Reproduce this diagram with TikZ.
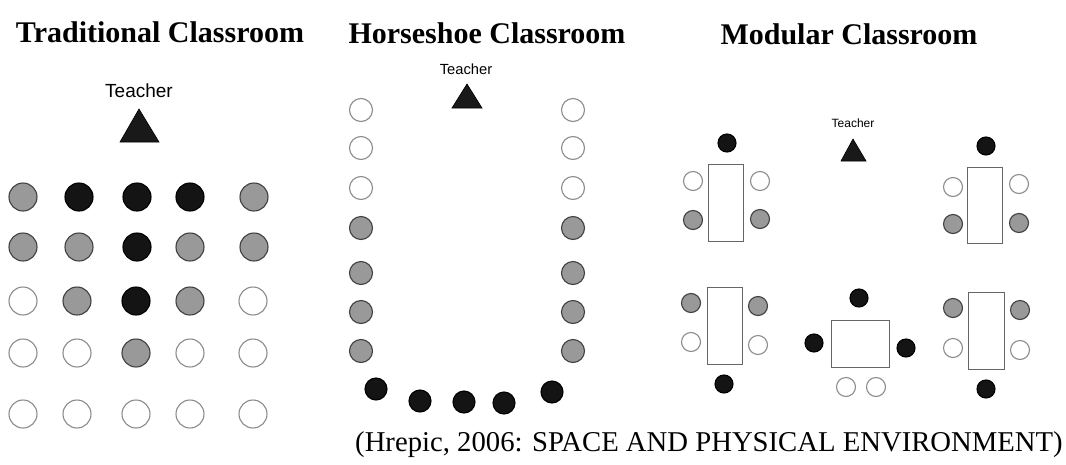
\documentclass[tikz,border=0pt]{standalone}
\usepackage{fontspec}
\setmainfont{Liberation Serif}
\newfontfamily\labelfont{Liberation Sans}
\begin{document}
\begin{tikzpicture}[x=1pt,y=-1pt,
 seat/.style={circle, inner sep=0pt, line width=1.1pt},
 blk/.style={seat, fill=black!92, draw=black},
 gry/.style={seat, fill=black!40, draw=black!75},
 wht/.style={seat, fill=white, draw=black!45},
 big/.style={minimum size=28pt},
 mid/.style={minimum size=23pt},
 sml/.style={minimum size=19pt},
 desk/.style={rectangle, draw=black!60, line width=0.9pt, inner sep=0pt, fill=white},
 title/.style={font=\bfseries\fontsize{30}{34}\selectfont, anchor=base, inner sep=0pt},
 teach/.style={font=\labelfont\fontsize{#1}{#1}\selectfont, anchor=base, inner sep=0pt},
 tri/.style={fill=black!90, draw=black, line join=miter, line width=0.6pt}
]
\fill[white] (0,0) rectangle (1066,464);
\useasboundingbox (0,0) rectangle (1066,464);

% ---------- Traditional ----------
\node[title] (ttitle) at (160,42) {Traditional Classroom};
\node[teach=19] (tteach) at (139,97) {Teacher};
\fill[tri] (139,109) -- (159,142) -- (120,142) -- cycle;
\foreach \x/\c [count=\i] in {23/gry,79/blk,137/blk,190/blk,254/gry}
  \node[\c,big] (ta\i) at (\x,197) {};
\foreach \x/\c [count=\i] in {23/gry,79/gry,137/blk,190/gry,254/gry}
  \node[\c,big] (tb\i) at (\x,247) {};
\foreach \x/\c [count=\i] in {23/wht,77/gry,136/blk,190/gry,253/wht}
  \node[\c,big] (tc\i) at (\x,301) {};
\foreach \x/\c [count=\i] in {23/wht,77/wht,136/gry,190/wht,253/wht}
  \node[\c,big] (td\i) at (\x,353) {};
\foreach \x/\c [count=\i] in {23/wht,77/wht,136/wht,190/wht,253/wht}
  \node[\c,big] (te\i) at (\x,414) {};

% ---------- Horseshoe ----------
\node[title] (htitle) at (487,43) {Horseshoe Classroom};
\node[teach=14.7] (hteach) at (466,74) {Teacher};
\fill[tri] (467,84) -- (482,108) -- (452,108) -- cycle;
\foreach \y/\c [count=\i] in {110/wht,148/wht,188/wht,228/gry,273/gry,312/gry,351/gry}{
  \node[\c,mid] (hl\i) at (361,\y) {};
  \node[\c,mid] (hr\i) at (573,\y) {};
}
\foreach \x/\y [count=\i] in {376/389,420/401,464/402,504/403,552/392}
  \node[blk,minimum size=22pt] (hb\i) at (\x,\y) {};

% ---------- Modular ----------
\node[title] (mtitle) at (849,44) {Modular Classroom};
\node[teach=12] (mteach) at (853,127) {Teacher};
\fill[tri] (853,139) -- (866,161) -- (841,161) -- cycle;

% top-left group
\node[desk, minimum width=35pt, minimum height=77pt] (d1) at (725.5,202.5) {};
\node[blk,minimum size=18pt] (d1t) at (727,143) {};
\node[wht,sml] (d1lw) at (693,181) {};
\node[gry,sml] (d1lg) at (693,220) {};
\node[wht,sml] (d1rw) at (760,181) {};
\node[gry,sml] (d1rg) at (760,219) {};

% top-right group
\node[desk, minimum width=35pt, minimum height=76pt] (d2) at (984.5,205) {};
\node[blk,minimum size=18pt] (d2t) at (986,146) {};
\node[wht,sml] (d2lw) at (953,187) {};
\node[gry,sml] (d2lg) at (953,224) {};
\node[wht,sml] (d2rw) at (1019,184) {};
\node[gry,sml] (d2rg) at (1019,223) {};

% bottom-left group
\node[desk, minimum width=35pt, minimum height=77pt] (d3) at (724.5,325.5) {};
\node[gry,sml] (d3lg) at (691,303) {};
\node[wht,sml] (d3lw) at (691,342) {};
\node[gry,sml] (d3rg) at (758,306) {};
\node[wht,sml] (d3rw) at (758,345) {};
\node[blk,minimum size=18pt] (d3b) at (724,384) {};

% bottom-middle group
\node[desk, minimum width=58pt, minimum height=47pt] (d4) at (860,343.5) {};
\node[blk,minimum size=18pt] (d4t) at (859,298) {};
\node[blk,minimum size=18pt] (d4l) at (814,343) {};
\node[blk,minimum size=18pt] (d4r) at (906,348) {};
\node[wht,sml] (d4b1) at (846,387) {};
\node[wht,sml] (d4b2) at (876,387) {};

% bottom-right group
\node[desk, minimum width=36pt, minimum height=77pt] (d5) at (986,330.5) {};
\node[gry,sml] (d5lg) at (953,308) {};
\node[wht,sml] (d5lw) at (953,348) {};
\node[gry,sml] (d5rg) at (1020,310) {};
\node[wht,sml] (d5rw) at (1020,350) {};
\node[blk,minimum size=18pt] (d5b) at (986,389) {};

% ---------- caption ----------
\node[anchor=base west, inner sep=0pt, font=\fontsize{28.7}{32}\selectfont] (cap) at (355,451) {(Hrepic, 2006: SPACE AND PHYSICAL ENVIRONMENT)};
\end{tikzpicture}
\end{document}
